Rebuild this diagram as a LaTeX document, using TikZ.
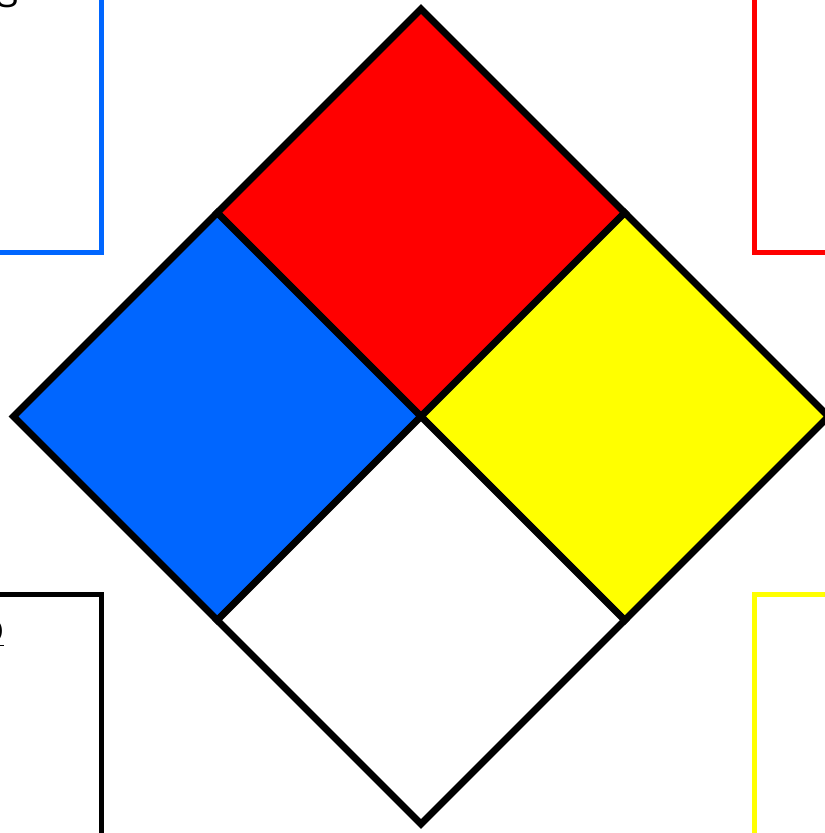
\documentclass[tikz,border=0pt]{standalone}
\usepackage{fontspec}
\setmainfont{Liberation Sans}
\usetikzlibrary{calc}
\definecolor{hazblue}{RGB}{0,102,255}
\definecolor{hazred}{RGB}{255,0,0}
\definecolor{hazyellow}{RGB}{255,255,0}
\tikzset{
  quadrant/.style={draw=black, line width=4pt, line join=miter},
  legendbox/.style={line width=2.8pt},
  cuttext/.style={inner sep=0pt, font=\fontsize{20}{24}\selectfont}
}
\begin{document}
\begin{tikzpicture}[x=0.02cm, y=-0.02cm]
  \useasboundingbox (0,0) rectangle (825,833);
  \clip (0,0) rectangle (825,833);
  % legend boxes, mostly outside the frame
  \draw[legendbox, hazblue] (-300,-100) rectangle (101.5,252.5);
  \draw[legendbox, hazred] (1100,-100) rectangle (754.5,252.5);
  \draw[legendbox, black] (-300,1000) rectangle (101.5,594.5);
  \draw[legendbox, hazyellow] (1100,1000) rectangle (754.5,594.5);
  \node[cuttext, anchor=base east] (health) at (19,7) {S};
  \node[cuttext, anchor=base east] (special) at (4,643) {\underline{O}};
  % diamond
  \coordinate (c) at (421,416.5);
  \coordinate (t) at (421,9);
  \coordinate (b) at (421,824);
  \coordinate (l) at (13.5,416.5);
  \coordinate (r) at (828.5,416.5);
  \filldraw[quadrant, fill=hazred] (t) -- ($(t)!0.5!(r)$) -- (c) -- ($(t)!0.5!(l)$) -- cycle;
  \filldraw[quadrant, fill=hazblue] (l) -- ($(l)!0.5!(t)$) -- (c) -- ($(l)!0.5!(b)$) -- cycle;
  \filldraw[quadrant, fill=hazyellow] (r) -- ($(r)!0.5!(t)$) -- (c) -- ($(r)!0.5!(b)$) -- cycle;
  \filldraw[quadrant, fill=white] (b) -- ($(b)!0.5!(l)$) -- (c) -- ($(b)!0.5!(r)$) -- cycle;
\end{tikzpicture}
\end{document}
